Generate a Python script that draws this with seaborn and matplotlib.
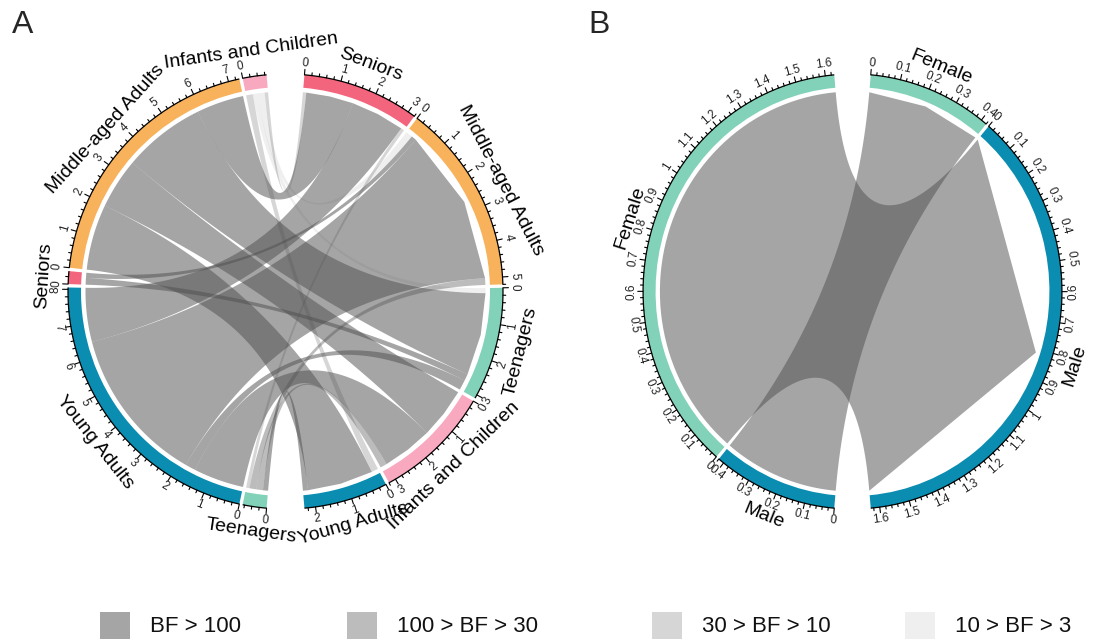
import numpy as np
import matplotlib
matplotlib.use("Agg")
import matplotlib.pyplot as plt
from matplotlib.patches import Wedge, Polygon, Rectangle
import seaborn as sns

sns.set_theme(style="white")
plt.rcParams["font.family"] = ["Liberation Sans", "DejaVu Sans"]

# ---------------- Panel A: age groups ----------------
# rows: groups on the left half (clockwise from the bottom gap)
left_A = ["Teenagers", "Young Adults", "Seniors", "Middle-aged Adults", "Infants and Children"]
# columns: groups on the right half (clockwise from the top gap)
right_A = ["Seniors", "Middle-aged Adults", "Teenagers", "Infants and Children", "Young Adults"]

flow_teenagers = [0.10, 0.20, 0.00, 0.20, 0.15]
flow_young = [1.60, 4.65, 0.30, 1.50, 0.00]
flow_seniors = [0.00, 0.15, 0.20, 0.00, 0.00]
flow_middle = [1.40, 0.00, 2.45, 1.50, 1.95]
flow_infants = [0.10, 0.20, 0.15, 0.00, 0.20]

# Bayes-factor class of each link: 0 BF>100, 1 100>BF>30, 2 30>BF>10, 3 10>BF>3
bf_teenagers = [2, 1, 0, 1, 0]
bf_young = [0, 0, 0, 0, 0]
bf_seniors = [0, 0, 0, 0, 0]
bf_middle = [0, 0, 0, 0, 0]
bf_infants = [2, 3, 3, 0, 2]

# ---------------- Panel B: sex ----------------
left_B = ["Male", "Female"]
right_B = ["Female", "Male"]
flow_male = [0.42, 0.00]
flow_female = [0.00, 1.63]
bf_male = [0, 0]
bf_female = [0, 0]

bf_labels = ["BF > 100", "100 > BF > 30", "30 > BF > 10", "10 > BF > 3"]

sector_colors = dict(zip(
    ["Seniors", "Middle-aged Adults", "Teenagers", "Infants and Children", "Young Adults",
     "Female", "Male"],
    sns.color_palette(["#F2657D", "#F8B25B", "#82D1B9", "#F8A9C0", "#0A8DB1",
                       "#82D1B9", "#0A8DB1"])))

link_gray = (0.31, 0.31, 0.31)
class_alpha = [0.51, 0.375, 0.233, 0.09]

R_LINK, R_IN, R_OUT = 200.0, 204.5, 217.5
SIDE_START, SIDE_SPAN, GAP = 85.0, 170.0, 0.9


def xy(r, deg):
    t = np.deg2rad(deg)
    return np.array([r * np.cos(t), r * np.sin(t)])


def arc(r, a0, a1, n=60):
    t = np.deg2rad(np.linspace(a0, a1, n))
    return np.column_stack([r * np.cos(t), r * np.sin(t)])


def bezier(p0, p2, n=80):
    # quadratic curve whose control point is the circle centre
    t = np.linspace(0, 1, n)[:, None]
    return (1 - t) ** 2 * p0 + t ** 2 * p2


def facing(theta):
    th = theta % 360
    return th - 90 if th < 180 else th + 90


def sector_spans(names, totals, start, k):
    spans, a = {}, start
    for n in names:
        spans[n] = (a, a - totals[n] * k)
        a = a - totals[n] * k - GAP
    return spans


def draw_chord(ax, left_names, right_names, flows, classes, major, minor):
    flows = np.asarray(flows, dtype=float)
    tot_l = dict(zip(left_names, flows.sum(axis=1)))
    tot_r = dict(zip(right_names, flows.sum(axis=0)))
    k = (SIDE_SPAN - GAP * (len(left_names) - 1)) / flows.sum()
    span_l = sector_spans(left_names, tot_l, 180 + SIDE_START, k)
    span_r = sector_spans(right_names, tot_r, SIDE_START, k)

    # stack link roots so that links leave each sector without crossing
    root_l, root_r = {}, {}
    for i, n in enumerate(left_names):
        off = 0.0
        for j in reversed(range(len(right_names))):
            w = flows[i, j]
            if w > 0:
                s0 = span_l[n][0]
                root_l[i, j] = (s0 - off * k, s0 - (off + w) * k)
                off += w
    for j, n in enumerate(right_names):
        off = 0.0
        for i in reversed(range(len(left_names))):
            w = flows[i, j]
            if w > 0:
                s0 = span_r[n][0]
                root_r[i, j] = (s0 - off * k, s0 - (off + w) * k)
                off += w

    for (i, j), (ls, le) in root_l.items():
        rs, re_ = root_r[i, j]
        pts = [arc(R_LINK, ls, le),
               bezier(xy(R_LINK, le), xy(R_LINK, rs)),
               np.array([xy(R_LINK, rs), xy(R_LINK, (rs + re_) / 2), xy(R_LINK, re_)]),
               bezier(xy(R_LINK, re_), xy(R_LINK, ls))]
        ax.add_patch(Polygon(np.vstack(pts), closed=True, facecolor=link_gray,
                             alpha=class_alpha[classes[i][j]], edgecolor="none", zorder=2))

    # sector tracks, axes and labels
    for spans, totals in ((span_l, tot_l), (span_r, tot_r)):
        for name, (a0, a1) in spans.items():
            ax.add_patch(Wedge((0, 0), R_OUT, a1, a0, width=R_OUT - R_IN,
                               facecolor=sector_colors[name], edgecolor="none", zorder=3))
            base = arc(R_OUT, a0, a1)
            ax.plot(base[:, 0], base[:, 1], color="black", lw=0.9, zorder=4,
                    solid_capstyle="butt")
            nmin = int(np.floor(totals[name] / minor + 1e-6))
            for m in range(nmin + 1):
                v = m * minor
                ang = a0 - v * k
                is_major = abs(v / major - round(v / major)) < 1e-6
                ln = 5.5 if is_major else 2.8
                p0, p1 = xy(R_OUT, ang), xy(R_OUT + ln, ang)
                ax.plot([p0[0], p1[0]], [p0[1], p1[1]], color="black", lw=0.8, zorder=4)
                if is_major:
                    lab = f"{round(v, 2):g}"
                    px, py = xy(R_OUT + 12, ang)
                    ax.text(px, py, lab, fontsize=8.5, rotation=facing(ang),
                            rotation_mode="anchor", ha="center", va="center",
                            color="#222222", zorder=5)
            mid = (a0 + a1) / 2
            px, py = xy(R_OUT + 25, mid)
            ax.text(px, py, name, fontsize=14, rotation=facing(mid),
                    rotation_mode="anchor", ha="center", va="center", color="black")


W, H = 1104, 644
fig = plt.figure(figsize=(W / 100, H / 100), dpi=100)


def panel_axes(cx, cy, hw, hh, xscale=1.0):
    ax = fig.add_axes([(cx - hw) / W, (H - cy - hh) / H, 2 * hw / W, 2 * hh / H])
    ax.set_xlim(-hw / xscale, hw / xscale)
    ax.set_ylim(-hh, hh)
    ax.axis("off")
    return ax


axA = panel_axes(285.5, 291.5, 283, 285)
draw_chord(axA, left_A, right_A,
           [flow_teenagers, flow_young, flow_seniors, flow_middle, flow_infants],
           [bf_teenagers, bf_young, bf_seniors, bf_middle, bf_infants], 1.0, 0.2)

axB = panel_axes(852.5, 291.5, 251, 285, xscale=0.963)
draw_chord(axB, left_B, right_B, [flow_male, flow_female], [bf_male, bf_female],
           0.1, 0.02)

# panel letters and legend
axL = fig.add_axes([0, 0, 1, 1], zorder=-1)
axL.set_xlim(0, W)
axL.set_ylim(H, 0)
axL.axis("off")
axL.text(12, 25, "A", fontsize=23, ha="left", va="center")
axL.text(588, 25, "B", fontsize=23, ha="left", va="center")

box_x = [100, 347, 652, 905]
for bx, lab, a in zip(box_x, bf_labels, class_alpha):
    axL.add_patch(Rectangle((bx, 612), 30, 27, facecolor=link_gray, alpha=a,
                            edgecolor="none"))
    axL.text(bx + 50, 627, lab, fontsize=16, ha="left", va="center", color="#111111")

fig.savefig("out.png", dpi=100, facecolor="white")
